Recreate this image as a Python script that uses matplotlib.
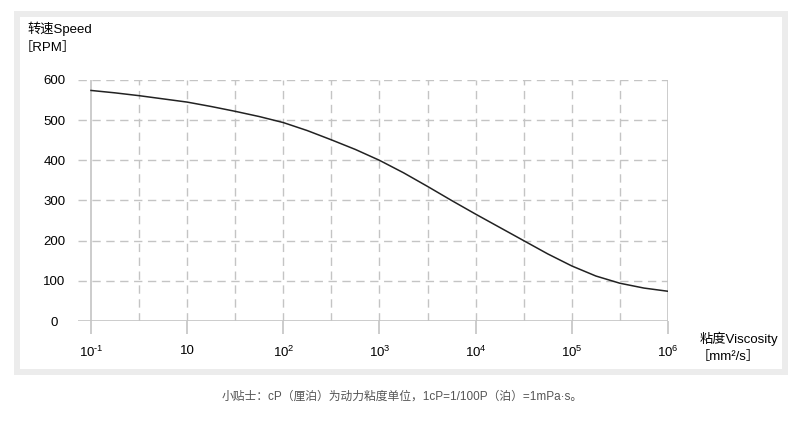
import matplotlib
matplotlib.use('Agg')
import matplotlib.pyplot as plt
from matplotlib.patches import Rectangle

plt.rcParams['font.family'] = ['Liberation Sans', 'Noto Sans CJK SC', 'DejaVu Sans']
plt.rcParams['mathtext.fontset'] = 'custom'
plt.rcParams['mathtext.rm'] = 'Liberation Sans'
plt.rcParams['mathtext.it'] = 'Liberation Sans'
plt.rcParams['axes.unicode_minus'] = False

# viscosity decades (equally spaced on the chart) and speed
tick_labels = [r'$10^{\text{-1}}$', '10', '$10^{2}$', '$10^{3}$', '$10^{4}$', '$10^{5}$', '$10^{6}$']
pos = [0, 0.25, 0.5, 0.75, 1, 1.25, 1.5, 1.75, 2, 2.25, 2.5, 2.75, 3,
       3.25, 3.5, 3.75, 4, 4.25, 4.5, 4.75, 5, 5.25, 5.5, 5.75, 6]
speed = [574, 568, 561, 553, 545, 534, 522, 509, 494, 474, 451, 427, 400,
         369, 335, 300, 266, 233, 200, 167, 137, 112, 94, 82, 74]
y_ticks = [0, 100, 200, 300, 400, 500, 600]

W, H = 800, 423
fig = plt.figure(figsize=(8, 4.23), dpi=100)
ax = fig.add_axes([78 / W, 1 - 321 / H, (668 - 78) / W, (321 - 80) / H])

grid = '#c4c4c4'
dash = (0, (6, 4))
for y in y_ticks[1:]:
    ax.axhline(y, color=grid, lw=1, ls=dash, zorder=1)
ax.axhline(0, color=grid, lw=1.2, zorder=1)
for i in range(1, 12):
    ax.axvline(i * 0.5, color=grid, lw=1, ls=dash, zorder=1)
ax.axvline(0, color=grid, lw=1.2, zorder=1)
ax.axvline(6, color=grid, lw=1.2, zorder=1)

ax.plot(pos, speed, color='#222222', lw=1.1, zorder=3)

ax.set_xlim(-0.135, 6.0)
ax.set_ylim(0, 600)
for s in ax.spines.values():
    s.set_visible(False)

ax.set_xticks(range(7))
ax.set_xticklabels(tick_labels, fontsize=9.5)
ax.tick_params(axis='x', length=9, color=grid, width=1.2, pad=8)
ax.set_yticks(y_ticks)
ax.set_yticklabels([str(v) for v in y_ticks], fontsize=9.5, ha='center')
ax.tick_params(axis='y', length=0, pad=17)

lab = dict(fontsize=9.5, va='center', ha='left',
           family=['Liberation Sans', 'Noto Sans CJK SC', 'DejaVu Sans'])
fig.text(27 / W, 1 - 29 / H, '转速Speed', **lab)
fig.text(20 / W, 1 - 48 / H, '［RPM］', **lab)
fig.text(700 / W, 1 - 339 / H, '粘度Viscosity', **lab)
fig.text(697 / W, 1 - 357 / H, '［mm²/s］', **lab)
fig.text(402 / W, 1 - 397 / H, '小贴士：cP（厘泊）为动力粘度单位，1cP=1/100P（泊）=1mPa·s。',
         fontsize=8.5, va='center', ha='center', color='#555555',
         family=['Liberation Sans', 'Noto Sans CJK SC', 'DejaVu Sans'])

fig.patches.append(Rectangle((17 / W, 1 - 372 / H), (784.5 - 17) / W, (372 - 14) / H,
                             transform=fig.transFigure, fill=False,
                             edgecolor='#ececec', lw=4.3, zorder=0))

fig.savefig('out.png', dpi=100)
